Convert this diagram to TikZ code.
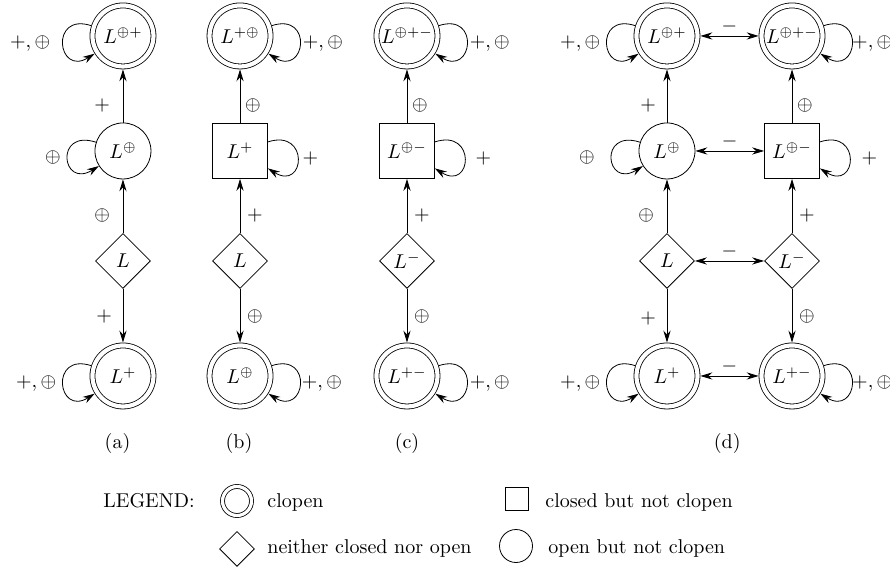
\documentclass[tikz,border=0pt]{standalone}
\usepackage{tikz}
\usetikzlibrary{shapes.geometric,arrows.meta}
\tikzset{
  clopen/.style={circle,draw,double,double distance=2.1pt,minimum size=30.5pt,inner sep=0pt,outer sep=1.45pt},
  openset/.style={circle,draw,minimum size=28pt,inner sep=0pt},
  closedset/.style={rectangle,draw,minimum size=27.5pt,inner sep=0pt},
  neither/.style={diamond,draw,aspect=1,minimum size=27.5pt,inner sep=0pt},
  move/.style={-{Stealth[length=6pt,width=3.6pt,inset=2pt]}},
  both/.style={{Stealth[length=6pt,width=3.6pt,inset=2pt]}-{Stealth[length=6pt,width=3.6pt,inset=2pt]}},
  loopleft/.style={out=162,in=212,distance=22pt},
  loopright/.style={out=18,in=-32,distance=22pt},
  up/.style={pos=0.33},
  legtext/.style={anchor=west,inner sep=0pt}
}
\begin{document}
\begin{tikzpicture}
\useasboundingbox (0,0) rectangle (15.64,10.034);
% (a)
\node[clopen] (aTop) at (2.161,9.402) {$L^{\oplus+}$};
\node[openset] (aMid) at (2.161,7.381) {$L^{\oplus}$};
\node[neither] (aDia) at (2.161,5.448) {$L$};
\node[clopen] (aBot) at (2.161,3.427) {$L^{+}$};
\draw[move] (aDia) -- node[left=3pt,up] {$\oplus$} (aMid);
\draw[move] (aMid) -- node[left=3pt,up] {$+$} (aTop);
\draw[move] (aDia) -- node[left=2pt,pos=0.52] {$+$} (aBot);
\draw[move] (aTop) to[loopleft] node[left=3pt] {$+,\oplus$} (aTop);
\draw[move] (aMid) to[loopleft] node[left] {$\oplus$} (aMid);
\draw[move] (aBot) to[loopleft] node[left] {$+,\oplus$} (aBot);
% (b)
\node[clopen] (bTop) at (4.218,9.402) {$L^{+\oplus}$};
\node[closedset] (bMid) at (4.218,7.381) {$L^{+}$};
\node[neither] (bDia) at (4.218,5.448) {$L$};
\node[clopen] (bBot) at (4.218,3.427) {$L^{\oplus}$};
\draw[move] (bDia) -- node[right,up] {$+$} (bMid);
\draw[move] (bMid) -- node[right=-1pt,up] {$\oplus$} (bTop);
\draw[move] (bDia) -- node[right,pos=0.52] {$\oplus$} (bBot);
\draw[move] (bTop) to[loopright] node[right=-2pt] {$+,\oplus$} (bTop);
\draw[move] (bMid) to[loopright] node[right=-1pt] {$+$} (bMid);
\draw[move] (bBot) to[loopright] node[right=-2.5pt] {$+,\oplus$} (bBot);
% (c)
\node[clopen] (cTop) at (7.152,9.402) {$L^{\oplus+-}$};
\node[closedset] (cMid) at (7.152,7.381) {$L^{\oplus-}$};
\node[neither] (cDia) at (7.152,5.448) {$L^{-}$};
\node[clopen] (cBot) at (7.152,3.427) {$L^{+-}$};
\draw[move] (cDia) -- node[right,up] {$+$} (cMid);
\draw[move] (cMid) -- node[right=-1pt,up] {$\oplus$} (cTop);
\draw[move] (cDia) -- node[right,pos=0.52] {$\oplus$} (cBot);
\draw[move] (cTop) to[loopright] node[right=-2pt] {$+,\oplus$} (cTop);
\draw[move] (cMid) to[loopright] node[right=2pt] {$+$} (cMid);
\draw[move] (cBot) to[loopright] node[right=-2pt] {$+,\oplus$} (cBot);
% (d)
\node[clopen] (dTopL) at (11.721,9.402) {$L^{\oplus+}$};
\node[openset] (dMidL) at (11.721,7.381) {$L^{\oplus}$};
\node[neither] (dDiaL) at (11.721,5.448) {$L$};
\node[clopen] (dBotL) at (11.721,3.427) {$L^{+}$};
\node[clopen] (dTopR) at (13.918,9.402) {$L^{\oplus+-}$};
\node[closedset] (dMidR) at (13.918,7.381) {$L^{\oplus-}$};
\node[neither] (dDiaR) at (13.918,5.448) {$L^{-}$};
\node[clopen] (dBotR) at (13.918,3.427) {$L^{+-}$};
\draw[move] (dDiaL) -- node[left=3pt,up] {$\oplus$} (dMidL);
\draw[move] (dMidL) -- node[left=2pt,up] {$+$} (dTopL);
\draw[move] (dDiaL) -- node[left=2pt,pos=0.55] {$+$} (dBotL);
\draw[move] (dDiaR) -- node[right,up] {$+$} (dMidR);
\draw[move] (dMidR) -- node[right=-1pt,up] {$\oplus$} (dTopR);
\draw[move] (dDiaR) -- node[right,pos=0.52] {$\oplus$} (dBotR);
\draw[both] (dTopL) -- node[above=-2pt] {$-$} (dTopR);
\draw[both] (dMidL) -- node[above=-2pt] {$-$} (dMidR);
\draw[both] (dDiaL) -- node[above=-2pt] {$-$} (dDiaR);
\draw[both] (dBotL) -- node[above=-2pt] {$-$} (dBotR);
\draw[move] (dTopL) to[loopleft] node[left] {$+,\oplus$} (dTopL);
\draw[move] (dMidL) to[loopleft] node[left=5pt] {$\oplus$} (dMidL);
\draw[move] (dBotL) to[loopleft] node[left] {$+,\oplus$} (dBotL);
\draw[move] (dTopR) to[loopright] node[right=-3.3pt] {$+,\oplus$} (dTopR);
\draw[move] (dMidR) to[loopright] node[right=2.5pt] {$+$} (dMidR);
\draw[move] (dBotR) to[loopright] node[right=-3.3pt] {$+,\oplus$} (dBotR);
% captions
\node (capA) at (2.065,2.249) {(a)};
\node (capB) at (4.200,2.249) {(b)};
\node (capC) at (7.152,2.249) {(c)};
\node (capD) at (12.780,2.249) {(d)};
% legend
\node[legtext] (legend) at (1.810,1.230) {LEGEND:};
\node[clopen,minimum size=14.5pt,double distance=1.6pt] (legClopen) at (4.165,1.230) {};
\node[legtext] (legClopenT) at (4.692,1.212) {clopen};
\node[closedset,minimum size=11.5pt] (legClosed) at (9.085,1.265) {};
\node[legtext] (legClosedT) at (9.577,1.212) {closed but not clopen};
\node[neither,minimum size=17.5pt] (legNeither) at (4.165,0.387) {};
\node[legtext] (legNeitherT) at (4.692,0.400) {neither closed nor open};
\node[openset,minimum size=16.5pt] (legOpen) at (9.068,0.439) {};
\node[legtext] (legOpenT) at (9.630,0.400) {open but not clopen};
\end{tikzpicture}
\end{document}
